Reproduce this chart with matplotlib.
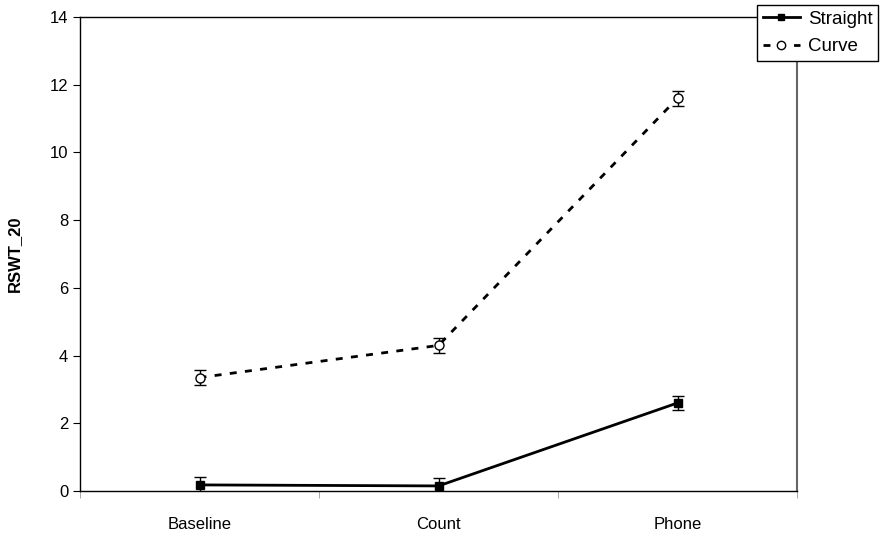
import numpy as np
import matplotlib
matplotlib.use("Agg")
from matplotlib import pyplot as plt
from matplotlib.lines import Line2D

plt.rcParams['font.family'] = ['Liberation Sans', 'DejaVu Sans']

conditions = ["Baseline", "Count", "Phone"]
straight = [0.18, 0.15, 2.6]
straight_err = [0.22, 0.22, 0.22]
curve = [3.35, 4.3, 11.6]
curve_err = [0.22, 0.22, 0.22]

x = np.arange(len(conditions))
dash = (0, (2.5, 3))

fig = plt.figure(figsize=(8.8, 5.33), dpi=100)
ax = fig.add_axes([80/880, 1-491/533, 717/880, 474/533])

ax.errorbar(x, straight, yerr=straight_err, color='black', lw=2,
            marker='s', ms=6, mfc='black', mec='black',
            capsize=4, elinewidth=1, capthick=1)
ax.errorbar(x, curve, yerr=curve_err, color='black', lw=2, ls=dash,
            marker='o', ms=6.5, mfc='white', mec='black', mew=1,
            capsize=4, elinewidth=1, capthick=1)

ax.set_xlim(-0.5, 2.5)
ax.set_ylim(0, 14)
ax.set_yticks(range(0, 15, 2))
ax.set_xticks(x)
ax.set_xticklabels(conditions, fontsize=12)
ax.set_xticks([-0.5, 0.5, 1.5, 2.5], minor=True)
ax.tick_params(axis='x', which='major', length=0, pad=19)
ax.tick_params(axis='x', which='minor', length=5, color='#999999')
ax.tick_params(axis='y', labelsize=12, length=5, direction='out')
ax.set_ylabel("RSWT_20", fontsize=12, fontweight='bold', labelpad=20)

for s in ax.spines.values():
    s.set_linewidth(1)
    s.set_color('black')
ax.spines['right'].set_color('#666666')
ax.spines['right'].set_linewidth(1.5)

# legend sits over the top-right corner and runs off the figure edge
handles = [
    Line2D([], [], color='black', lw=2, marker='s', ms=5, mfc='black'),
    Line2D([], [], color='black', lw=2, ls=dash, marker='o', ms=6,
           mfc='white', mec='black', mew=1),
]
leg = ax.legend(handles, ['Straight', 'Curve'], loc='upper left',
                bbox_to_anchor=(757/880, 1-5/533),
                bbox_transform=fig.transFigure, fontsize=13.5, frameon=True,
                fancybox=False, edgecolor='black', borderpad=0.3,
                handlelength=2.0, handletextpad=0.4, labelspacing=0.55,
                borderaxespad=0, framealpha=1)
leg.get_frame().set_linewidth(1)

fig.savefig("out.png", dpi=100)
